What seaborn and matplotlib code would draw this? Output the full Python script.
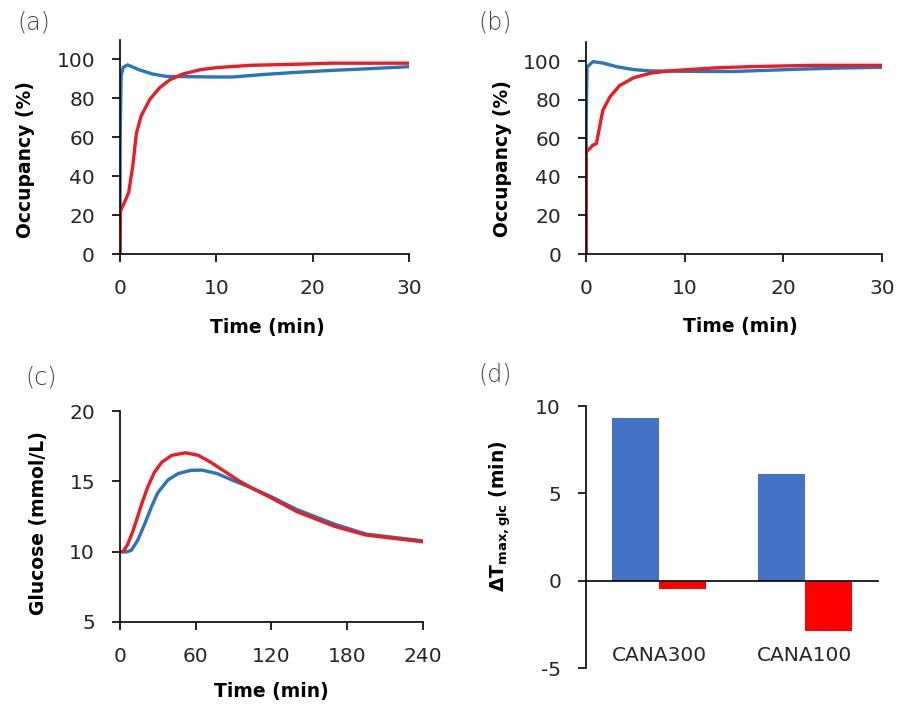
import numpy as np
import pandas as pd
import matplotlib
matplotlib.use("Agg")
import matplotlib.pyplot as plt
import seaborn as sns

# ---- data ----
# (a) receptor occupancy, higher dose
occ_a_t_blue = [0, 0.02, 0.12, 0.35, 0.8, 2.0, 3.4, 4.8, 6.5, 10, 11.7, 15.2, 18.7, 22, 25.6, 30]
occ_a_blue = [0, 60, 92, 96, 97.2, 94.7, 92.5, 91.3, 91.2, 91.0, 91.0, 92.4, 93.5, 94.4, 95.2, 96.3]
occ_a_t_red = [0, 0.05, 0.5, 0.9, 1.35, 1.7, 2.2, 3.1, 4.1, 5.15, 6.5, 8.3, 10, 13.5, 18.7, 22, 30]
occ_a_red = [0, 22, 27, 31.5, 46, 62, 71, 79.5, 85.4, 89.5, 92.5, 94.7, 95.8, 97.0, 97.6, 98.1, 98.1]

# (b) receptor occupancy, lower dose
occ_b_t_blue = [0, 0.02, 0.1, 0.7, 1.7, 3.1, 4.8, 6.5, 9.8, 14.9, 18.3, 21.6, 25, 30]
occ_b_blue = [0, 70, 97, 99.8, 99.1, 97.2, 95.7, 95.0, 94.8, 94.7, 95.3, 95.9, 96.4, 96.9]
occ_b_t_red = [0, 0.03, 0.7, 1.05, 1.3, 1.7, 2.4, 3.4, 4.8, 6.5, 8.1, 9.8, 13.2, 16.6, 20, 23.3, 30]
occ_b_red = [0, 53, 56.5, 57.3, 64, 74.5, 81.4, 87.4, 91.4, 93.8, 94.8, 95.5, 96.6, 97.2, 97.6, 97.9, 97.9]

# (c) plasma glucose
glc_t_blue = [0, 5, 9, 14, 19.5, 25, 30, 38, 46, 56, 65, 77, 90, 105, 120, 140, 170, 195, 240]
glc_blue = [10, 9.98, 10.1, 10.8, 11.95, 13.2, 14.2, 15.1, 15.55, 15.78, 15.8, 15.55, 15.05,
            14.5, 13.9, 13.0, 11.95, 11.25, 10.77]
glc_t_red = [0, 2.5, 6, 10, 14, 18, 22, 27, 33, 41, 52, 62, 72, 83, 94, 105, 120, 140, 170, 195, 240]
glc_red = [10, 10.0, 10.5, 11.4, 12.5, 13.6, 14.6, 15.6, 16.35, 16.85, 17.03, 16.85, 16.35,
           15.7, 15.05, 14.5, 13.82, 12.85, 11.8, 11.18, 10.7]

# (d) shift of glucose Tmax
doses = ["CANA300", "CANA100"]
dtmax_blue = [9.3, 6.1]
dtmax_red = [-0.5, -2.9]

series = ["Scenario 1", "Scenario 2"]
line_colors = {"Scenario 1": "#2676BD", "Scenario 2": "#EC1C24"}
bar_colors = {"Scenario 1": "#4472C4", "Scenario 2": "#FF0000"}

# ---- style ----
sns.set_theme(style="ticks")
plt.rcParams["font.family"] = ["DejaVu Sans"]
plt.rcParams["axes.unicode_minus"] = False
plt.rcParams["axes.linewidth"] = 1.2
plt.rcParams["axes.edgecolor"] = "black"

TICK_FS = 14.5
LABEL_FS = 13.5
TXT = "#262626"


def long_frame(pairs):
    rows = []
    for name, t, v in pairs:
        for ti, vi in zip(t, v):
            rows.append({"t": ti, "v": vi, "series": name})
    return pd.DataFrame(rows)


def style_axes(ax):
    sns.despine(ax=ax)
    ax.tick_params(axis="both", direction="out", length=6, width=1.2,
                   color="black", labelsize=TICK_FS, labelcolor=TXT, pad=12)
    ax.set_facecolor("white")


def label_axes(ax, xlabel, ylabel, xpos, ypos):
    if xlabel:
        ax.set_xlabel(xlabel, fontsize=LABEL_FS, fontweight="bold", color="black", va="top")
        ax.xaxis.set_label_coords(*xpos)
    ax.set_ylabel(ylabel, fontsize=LABEL_FS, fontweight="bold", color="black")
    ax.yaxis.set_label_coords(*ypos)


fig = plt.figure(figsize=(8.98, 7.06), dpi=100)
fig.patch.set_facecolor("white")

ax_a = fig.add_axes([0.1336, 0.6402, 0.3219, 0.3031])
ax_b = fig.add_axes([0.6526, 0.6402, 0.3296, 0.3003])
ax_c = fig.add_axes([0.1336, 0.1190, 0.3374, 0.2988])
ax_d = fig.add_axes([0.6526, 0.0538, 0.3251, 0.3711])

# occupancy panels
for ax, pairs in [
    (ax_a, [("Scenario 1", occ_a_t_blue, occ_a_blue), ("Scenario 2", occ_a_t_red, occ_a_red)]),
    (ax_b, [("Scenario 1", occ_b_t_blue, occ_b_blue), ("Scenario 2", occ_b_t_red, occ_b_red)]),
]:
    df = long_frame(pairs)
    sns.lineplot(data=df, x="t", y="v", hue="series", hue_order=series,
                 palette=line_colors, estimator=None, sort=False,
                 linewidth=2.4, legend=False, ax=ax)
    ax.set_xlim(0, 30)
    ax.set_ylim(0, 110)
    ax.set_xticks([0, 10, 20, 30])
    ax.set_yticks([0, 20, 40, 60, 80, 100])
    style_axes(ax)

label_axes(ax_a, "Time (min)", "Occupancy (%)", (0.51, -0.30), (-0.294, 0.44))
label_axes(ax_b, "Time (min)", "Occupancy (%)", (0.52, -0.297), (-0.25, 0.45))

# glucose panel
df_c = long_frame([("Scenario 1", glc_t_blue, glc_blue), ("Scenario 2", glc_t_red, glc_red)])
sns.lineplot(data=df_c, x="t", y="v", hue="series", hue_order=series,
             palette=line_colors, estimator=None, sort=False,
             linewidth=2.4, legend=False, ax=ax_c)
ax_c.set_xlim(0, 240)
ax_c.set_ylim(5, 20)
ax_c.set_xticks([0, 60, 120, 180, 240])
ax_c.set_yticks([5, 10, 15, 20])
style_axes(ax_c)
label_axes(ax_c, "Time (min)", "Glucose (mmol/L)", (0.50, -0.284), (-0.238, 0.47))

# Tmax shift bar panel
df_d = pd.DataFrame({
    "dose": doses * 2,
    "series": [series[0]] * 2 + [series[1]] * 2,
    "value": dtmax_blue + dtmax_red,
})
sns.barplot(data=df_d, x="dose", y="value", hue="series", hue_order=series,
            order=doses, palette=bar_colors, width=0.65, gap=0,
            saturation=1, legend=False, ax=ax_d)
for p in ax_d.patches:
    p.set_linewidth(0)
ax_d.set_xlim(-0.5, 1.5)
ax_d.set_ylim(-5, 10)
ax_d.set_yticks([-5, 0, 5, 10])
style_axes(ax_d)
ax_d.spines["bottom"].set_position(("data", 0))
ax_d.tick_params(axis="x", length=0, pad=47, labelsize=TICK_FS)
ax_d.set_xlabel("")
label_axes(ax_d, None, "ΔT$_{\\mathbf{max,glc}}$ (min)", None, (-0.25, 0.58))

# panel tags
tag_kw = dict(fontsize=17, fontweight="light", color="#404040", va="top", ha="left")
fig.text(0.019, 0.985, "(a)", **tag_kw)
fig.text(0.533, 0.985, "(b)", **tag_kw)
fig.text(0.028, 0.482, "(c)", **tag_kw)
fig.text(0.533, 0.486, "(d)", **tag_kw)

fig.savefig("out.png", dpi=100, facecolor="white")
